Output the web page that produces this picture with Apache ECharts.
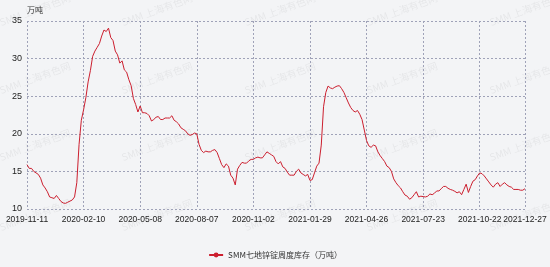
<!DOCTYPE html>
<html><head><meta charset="utf-8">
<script src="https://cdn.jsdelivr.net/npm/echarts@6/dist/echarts.min.js"></script>
<style>html,body{margin:0;padding:0;background:#f3f4f6;}#c{width:550px;height:267px;}</style>
</head><body><div id="c"></div>
<script>
const seriesName = 'SMM七地锌锭周度库存（万吨）';
const yAxisName = '万吨';
const tickLabels = ['2019-11-11','2020-02-10','2020-05-08','2020-08-07','2020-11-02','2021-01-29','2021-04-26','2021-07-23','2021-10-22','2021-12-27'];
const inventory = [
15.9,15.4,15.4,15.0,14.8,14.6,14.1,13.2,12.8,12.3,
11.6,11.5,11.4,11.8,11.4,11.0,10.8,10.75,10.9,11.05,
11.2,11.6,13.5,18.6,21.8,23.2,24.8,26.9,28.4,30.3,
31.0,31.5,32.0,33.0,33.8,33.6,34.05,32.8,32.4,31.0,
30.5,29.4,29.7,28.5,28.2,27.2,26.4,24.7,23.9,22.9,
23.7,22.8,22.8,22.7,22.4,21.7,21.9,22.2,22.3,21.9,
21.9,22.1,22.1,22.1,22.4,21.8,21.6,21.3,20.8,20.6,
20.4,20.0,19.8,19.9,20.1,20.0,18.6,17.8,17.5,17.7,
17.6,17.6,17.8,17.9,17.5,16.7,15.9,15.5,16.0,15.7,
14.5,14.1,13.2,15.3,15.8,16.2,16.1,16.1,16.4,16.6,
16.6,16.8,16.9,16.8,16.8,17.2,17.6,17.4,17.2,17.0,
16.3,16.0,16.3,15.6,15.4,14.9,14.5,14.5,14.5,15.0,
15.3,14.8,14.6,14.4,14.6,13.8,13.9,14.8,15.7,16.1,
18.5,23.6,25.5,26.35,26.1,26.0,26.2,26.35,26.4,26.0,
25.5,24.8,24.1,23.5,23.1,22.9,23.1,22.6,21.9,20.5,
19.1,18.4,18.2,18.5,18.4,17.6,17.1,16.7,16.3,15.7,
15.5,15.0,14.0,13.5,13.1,12.8,12.3,11.85,11.7,11.3,
11.5,11.9,12.3,11.6,11.7,11.65,11.6,11.7,12.0,11.9,
12.1,12.4,12.4,12.7,13.0,13.0,12.75,12.6,12.5,12.35,
12.15,12.3,11.9,12.6,13.3,12.2,13.0,13.7,13.9,14.4,
14.8,14.7,14.4,14.0,13.6,13.2,12.9,13.3,13.5,13.0,
13.3,13.5,13.2,13.0,12.9,12.6,12.6,12.6,12.5,12.5,
12.7
];
const tickEvery = 25;
const N = inventory.length;
// category keys (one per observation); tick text comes from tickLabels
const categories = inventory.map((v, i) => 'p' + i);

const wmText = 'SMM 上海有色网';
const wmX = [35, 157, 280, 402, 525];
const wmY = [10, 78, 145, 215];
const graphics = [];
wmY.forEach(y => wmX.forEach(x => graphics.push({
  type: 'text', x: x, y: y, rotation: 20 * Math.PI / 180, z: 0, silent: true,
  style: { text: wmText, fill: 'rgba(0,0,0,0.06)', font: '10px "Noto Sans CJK SC"', textAlign: 'center', textVerticalAlign: 'middle' }
})));

const numFont = '"Liberation Sans", Arial, sans-serif';
const chart = echarts.init(document.getElementById('c'));
const dashed = { color: '#9fa2b8', type: [2, 2], width: 1 };
const isTick = (i) => i % tickEvery === 0 || i === N - 1;
chart.setOption({
  backgroundColor: '#f3f4f6',
  animation: false,
  graphic: graphics,
  grid: { left: 27, right: 25, top: 21, bottom: 58, containLabel: false },
  legend: {
    bottom: 3, left: 'center', itemWidth: 14, itemHeight: 6, itemGap: 10,
    textStyle: { fontSize: 8, color: '#333', fontFamily: '"Noto Sans CJK SC"' },
    data: [seriesName]
  },
  xAxis: {
    type: 'category', data: categories, boundaryGap: false,
    axisLine: { show: false }, axisTick: { show: false },
    axisLabel: {
      color: '#222', fontSize: 8.5, fontFamily: numFont, margin: 6,
      hideOverlap: false,
      interval: 0,
      formatter: (v, i) => {
        if (i === N - 1) return tickLabels[tickLabels.length - 1];
        return i % tickEvery === 0 ? tickLabels[i / tickEvery] : '';
      }
    },
    splitLine: { show: true, interval: isTick, lineStyle: dashed }
  },
  yAxis: {
    type: 'value', min: 10, max: 35, interval: 5,
    name: yAxisName, nameLocation: 'end', nameGap: 7,
    nameTextStyle: { color: '#333', fontSize: 8, align: 'left', fontFamily: '"Noto Sans CJK SC"' },
    axisLine: { show: false }, axisTick: { show: false },
    axisLabel: { color: '#222', fontSize: 9, fontFamily: numFont, margin: 5 },
    splitLine: { show: true, lineStyle: dashed }
  },
  series: [{
    name: seriesName, type: 'line', data: inventory,
    symbol: 'circle', symbolSize: 5, showSymbol: false,
    lineStyle: { color: '#cc1f2f', width: 1 },
    itemStyle: { color: '#cc1f2f' }
  }]
});
</script>
</body></html>
